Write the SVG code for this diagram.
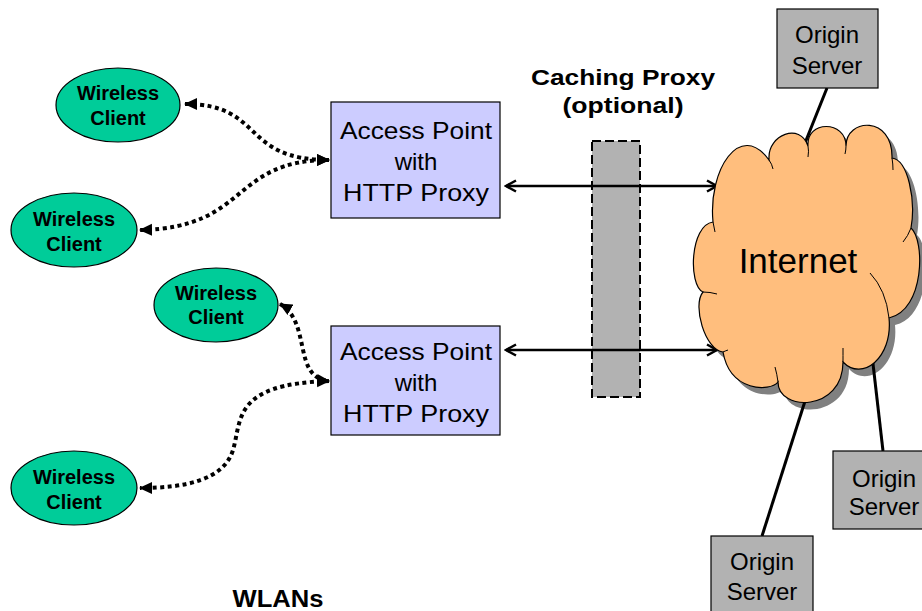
<svg xmlns="http://www.w3.org/2000/svg" width="922" height="611" viewBox="0 0 922 611">
<style>
.client{fill:#00CC99;stroke:#000;stroke-width:1.2}
.ap{fill:#CCCCFF;stroke:#000;stroke-width:1.2}
.srv{fill:#B2B2B2;stroke:#000;stroke-width:1.2}
.tb{font-family:"Liberation Sans",Arial,sans-serif;font-weight:bold;font-size:20px;fill:#000;text-anchor:middle}
.t{font-family:"Liberation Sans",Arial,sans-serif;font-size:24px;fill:#000;text-anchor:middle}
.dot{fill:none;stroke:#000;stroke-width:4;stroke-dasharray:4 3.5;marker-start:url(#fa);marker-end:url(#fa)}
.sol{fill:none;stroke:#000;stroke-width:2.5;marker-start:url(#oa);marker-end:url(#oa)}
.ln{fill:none;stroke:#000;stroke-width:3}
</style>
<defs>
<marker id="fa" markerUnits="userSpaceOnUse" markerWidth="14" markerHeight="14" refX="12" refY="7" orient="auto-start-reverse" viewBox="0 0 14 14">
<path d="M0,1 L13,7 L0,13 Z" fill="#000"/>
</marker>
<marker id="oa" markerUnits="userSpaceOnUse" markerWidth="14" markerHeight="14" refX="12" refY="7" orient="auto-start-reverse" viewBox="0 0 14 14">
<path d="M2,1.5 L12,7 L2,12.5" fill="none" stroke="#000" stroke-width="2.5"/>
</marker>
<path id="cloudp" d="M713,222 C708,170 740,120 769,160 L769,158 C768,135 800,122 808,146 C806,120 846,120 846,146 C846,118 893,115 892,158 C908,160 916,200 911,228 C925,240 925,310 889,318 C893,358 862,382 843,362 C843,412 778,412 778,382 C770,392 730,392 723,352 C705,350 692,305 703,292 C688,285 690,225 713,222 Z"/>
</defs>

<g id="caching-proxy">
<rect x="592" y="141" width="48" height="256" fill="#B2B2B2" stroke="#000" stroke-width="2" stroke-dasharray="9 4"/>
<text class="tb" x="623" y="85" style="font-size:22px" textLength="184" lengthAdjust="spacingAndGlyphs">Caching Proxy</text>
<text class="tb" x="623" y="113" style="font-size:22px" textLength="121" lengthAdjust="spacingAndGlyphs">(optional)</text>
</g>

<g id="cloud-shadow">
<use href="#cloudp" transform="translate(6,7)" fill="#808080"/>
</g>

<g id="connectors">
<path class="dot" d="M185,104 C265,104 240,160 329,160"/>
<path class="dot" d="M329,160 C230,160 250,228 140,230"/>
<path class="dot" d="M280,304 C312,322 292,378 329,381"/>
<path class="dot" d="M329,381 C232,384 242,420 233,450 C224,480 185,488 140,488"/>
<path class="sol" d="M506,186 L717,186"/>
<path class="sol" d="M506,350 L717,350"/>
<path class="ln" d="M827,88 L803,148"/>
<path class="ln" d="M883,451 L872,355"/>
<path class="ln" d="M762,536 L806,398"/>
</g>

<g id="internet">
<use href="#cloudp" fill="#FFBE7D" stroke="#000" stroke-width="1.2"/>
<path d="M769,160 Q772,164 773,169 M808,146 Q809,151 808,157 M846,146 Q846,150 845,154 M892,158 Q893,164 893,170 M911,228 Q908,236 903,242 M870,273 Q886,290 889,318 M843,362 Q843,356 843,348 M778,382 Q777,374 775,367 M723,352 Q725,351 728,350 M703,292 Q710,292 717,294 M713,222 Q714,227 715,232" fill="none" stroke="#000" stroke-width="1"/>
<text class="t" x="798" y="273" style="font-size:35px">Internet</text>
</g>

<g id="client1"><ellipse class="client" cx="118" cy="105" rx="62" ry="37"/><text class="tb" x="118" y="100">Wireless</text><text class="tb" x="118" y="125">Client</text></g>
<g id="client2"><ellipse class="client" cx="74" cy="230" rx="63" ry="37"/><text class="tb" x="74" y="226">Wireless</text><text class="tb" x="74" y="251">Client</text></g>
<g id="client3"><ellipse class="client" cx="216" cy="305" rx="62" ry="37"/><text class="tb" x="216" y="300">Wireless</text><text class="tb" x="216" y="324">Client</text></g>
<g id="client4"><ellipse class="client" cx="74" cy="488" rx="63" ry="37"/><text class="tb" x="74" y="484">Wireless</text><text class="tb" x="74" y="509">Client</text></g>

<g id="ap1"><rect class="ap" x="331" y="102" width="169" height="116"/>
<text class="t" x="416" y="139" textLength="152" lengthAdjust="spacingAndGlyphs">Access Point</text>
<text class="t" x="416" y="170">with</text>
<text class="t" x="416" y="201" textLength="146" lengthAdjust="spacingAndGlyphs">HTTP Proxy</text></g>
<g id="ap2"><rect class="ap" x="331" y="326" width="169" height="109"/>
<text class="t" x="416" y="360" textLength="152" lengthAdjust="spacingAndGlyphs">Access Point</text>
<text class="t" x="416" y="391">with</text>
<text class="t" x="416" y="422" textLength="146" lengthAdjust="spacingAndGlyphs">HTTP Proxy</text></g>

<g id="server-top"><rect class="srv" x="777" y="9" width="101" height="79"/>
<text class="t" x="827" y="43">Origin</text><text class="t" x="827" y="74">Server</text></g>
<g id="server-right"><rect class="srv" x="833" y="451" width="101" height="78"/>
<text class="t" x="884" y="487">Origin</text><text class="t" x="884" y="515">Server</text></g>
<g id="server-bottom"><rect class="srv" x="711" y="536" width="102" height="79"/>
<text class="t" x="762" y="570">Origin</text><text class="t" x="762" y="600">Server</text></g>

<g id="wlans-label"><text class="tb" x="278" y="607" style="font-size:23px" textLength="91" lengthAdjust="spacingAndGlyphs">WLANs</text></g>
</svg>
